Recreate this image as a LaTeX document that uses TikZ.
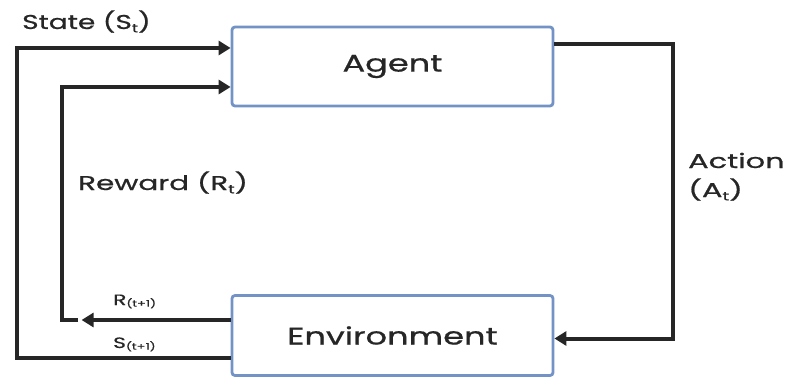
\documentclass[tikz,border=0pt]{standalone}
\usepackage{graphicx}
\usepackage{fontspec}
\setmainfont{Poppins}[FakeBold=0.6]
\usetikzlibrary{arrows.meta}
\definecolor{boxblue}{HTML}{7393C6}
\definecolor{linegray}{HTML}{262626}
\newcommand{\wide}[1]{\scalebox{1.4}[1]{#1}}
\newcommand{\lowsub}[2]{{#1\raisebox{-0.3ex}{\fontsize{#2}{#2}\selectfont t}}}
\begin{document}
\begin{tikzpicture}[x=1pt,y=-1pt,
  blockbox/.style={draw=boxblue,line width=2.8pt,rounded corners=3pt,minimum width=321pt,minimum height=79pt,inner sep=0pt,text=linegray,font=\fontsize{24}{28}\selectfont},
  conn/.style={draw=linegray,line width=4pt},
  arr/.style={conn,-{Triangle[length=12pt,width=14pt]}},
  lbl/.style={anchor=base west,inner sep=0pt,text=linegray,font=\fontsize{20}{24}\selectfont},
  small/.style={anchor=base west,inner sep=0pt,text=linegray,font=\fontsize{15}{18}\selectfont}]
\useasboundingbox[fill=white] (0,0) rectangle (785,377);
\node[blockbox] (agent) at (392.5,66.5) {\wide{Agent}};
\node[blockbox,minimum height=80pt] (env) at (392.5,335.5) {\wide{Environment}};
\coordinate (rgap) at (78,320);
% State loop
\draw[arr] ([yshift=-22.5pt]env.west) -- ++(-214,0) |- ([yshift=18.5pt]agent.west);
% Reward loop
\draw[arr] ([yshift=15.5pt]env.west) -- ++(-149,0);
\draw[arr] (rgap) -- ++(-16,0) |- ([yshift=-20.5pt]agent.west);
% Action
\draw[arr] ([yshift=22.5pt]agent.east) -- ++(119,0) |- ([yshift=-3pt]env.east);
% labels
\node[lbl] (lstate) at (22,29) {\wide{State (\lowsub{S}{12})}};
\node[lbl] (lreward) at (78,190) {\scalebox{1.47}[1]{Reward (\lowsub{R}{12})}};
\node[lbl] (laction) at (688,168) {\scalebox{1.52}[1]{Action}};
\node[lbl] (lactiont) at (688,197) {\scalebox{1.52}[1]{(\lowsub{A}{12})}};
\node[small] (lr) at (113,305) {\scalebox{1.45}[1]{R\raisebox{-0.2ex}{\fontsize{9}{10}\selectfont (t+1)}}};
\node[small] (ls) at (113,348) {\scalebox{1.45}[1]{S\raisebox{-0.2ex}{\fontsize{9}{10}\selectfont (t+1)}}};
\end{tikzpicture}
\end{document}
